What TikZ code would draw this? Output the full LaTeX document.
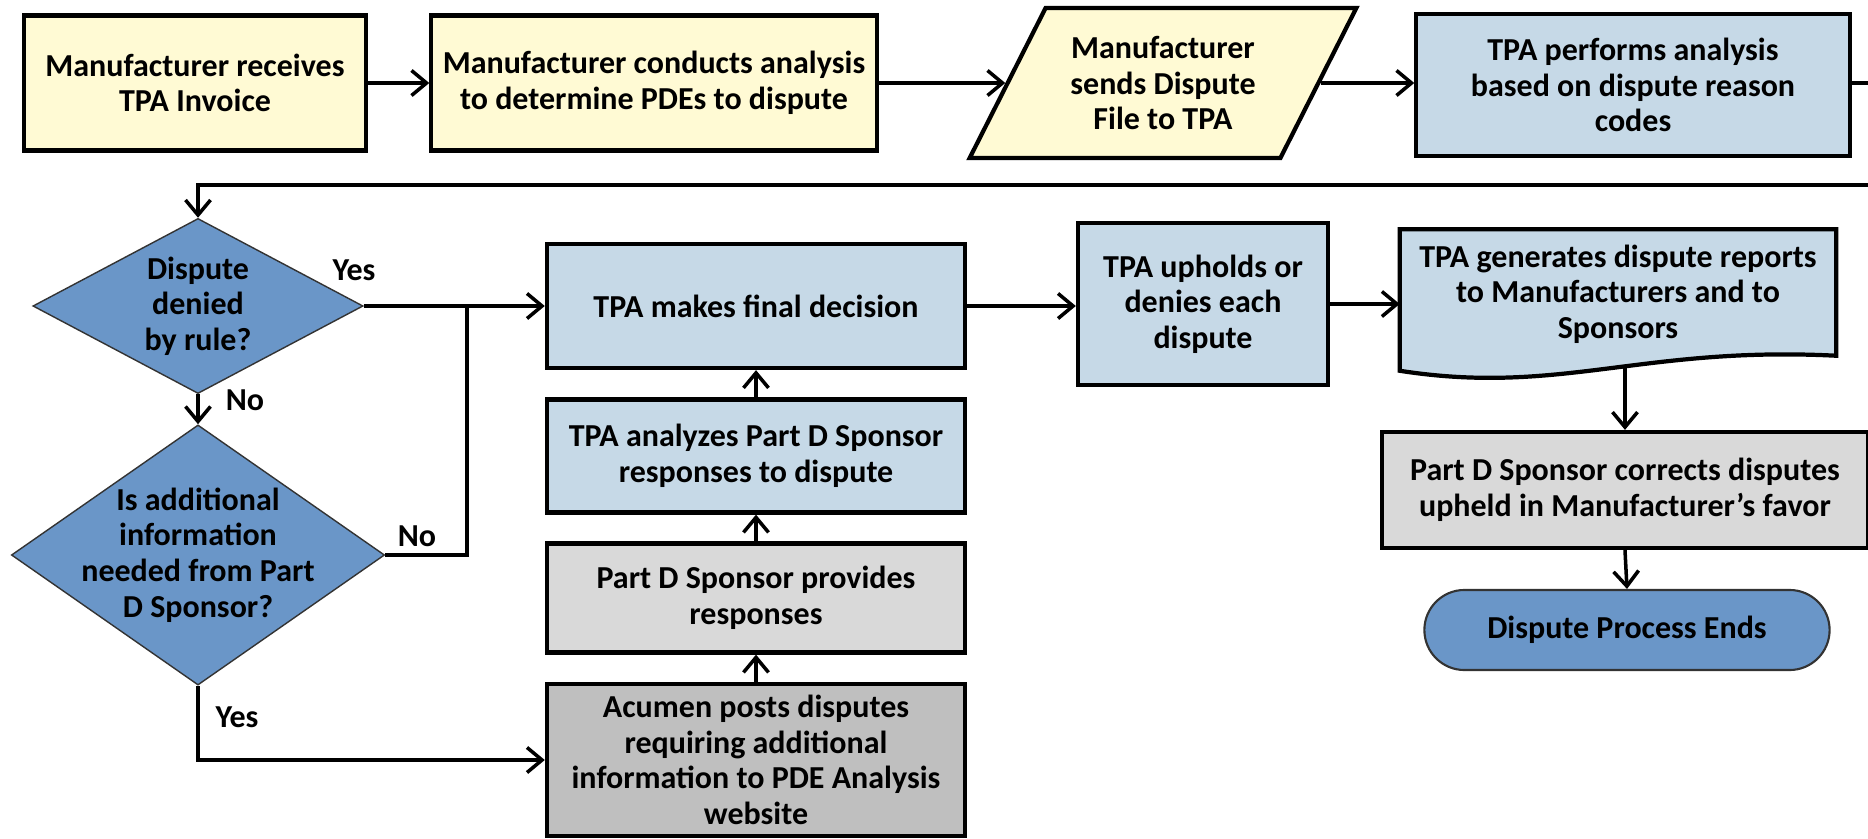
\documentclass[tikz,border=0pt]{standalone}
\usepackage{fontspec}
\setmainfont{Carlito}
\usepackage{tikz}
\usetikzlibrary{arrows.meta, positioning, shapes.geometric, backgrounds}

\definecolor{procyellow}{RGB}{255,250,212}
\definecolor{procblue}{RGB}{198,217,231}
\definecolor{decisionblue}{RGB}{106,150,200}
\definecolor{lightgrey}{RGB}{217,217,217}
\definecolor{midgrey}{RGB}{191,191,191}

\begin{document}
\begin{tikzpicture}[
    x=0.01cm, y=-0.01cm,
    % Styles
    every node/.style={font=\fontsize{9.1}{10.1}\selectfont\bfseries, align=center},
    procbox/.style={draw, line width=1.2pt, inner sep=2pt},
    mfrbox/.style={procbox, fill=procyellow},
    tpabox/.style={procbox, fill=procblue},
    sponsorbox/.style={procbox, fill=lightgrey},
    acumenbox/.style={procbox, fill=midgrey},
    decision/.style={diamond, draw=black!80, fill=decisionblue, line width=0.4pt, inner sep=0pt},
    decisiontext/.style={align=center},
    terminator/.style={draw=black!80, fill=decisionblue, line width=0.6pt, rounded corners=0.4cm},
    branchlabel/.style={inner sep=1pt},
    flowarrow/.style={-{Straight Barb[length=1.5mm, width=2.5mm]}, line width=1pt},
    flowline/.style={line width=1pt},
]
    \useasboundingbox (0,0) rectangle (1868,839);

    % Top row: manufacturer steps
    \node[mfrbox, minimum width=3.42cm, minimum height=1.35cm] (recv) at (195,83) {Manufacturer receives\\TPA Invoice};
    \node[mfrbox, minimum width=4.45cm, minimum height=1.35cm] (analysis) at (654,83) {Manufacturer conducts analysis\\to determine PDEs to dispute};
    \node[trapezium, trapezium left angle=60, trapezium right angle=120, trapezium stretches=true,
          draw, line width=1.2pt, fill=procyellow, minimum width=3.88cm, minimum height=1.5cm] (sendfile) at (1163,83) {Manufacturer\\sends Dispute\\File to TPA};
    \node[tpabox, minimum width=4.33cm, minimum height=1.42cm] (perform) at (1633,85) {TPA performs analysis\\based on dispute reason\\codes};

    \draw[flowarrow] (recv.east) -- (analysis.west);
    \draw[flowarrow] (analysis.east) -- (sendfile.west);
    \draw[flowarrow] (sendfile.east) -- (sendfile.east -| perform.west);

    % Wrap-around to second row
    \coordinate (exitA) at (1868,83);
    \coordinate (exitB) at (1868,185);
    \draw[flowline] (perform.east |- exitA) -- (exitA);

    % Decisions
    \node[decision, minimum width=3.3cm, minimum height=1.75cm,
          label={[decisiontext]center:Dispute\\denied\\by rule?}] (rule) at (198,306) {};
    \node[decision, minimum width=3.73cm, minimum height=2.6cm,
          label={[decisiontext]center:Is additional\\information\\needed from Part\\D Sponsor?}] (info) at (198,555) {};

    \draw[flowarrow] (exitB) -| (rule.north);
    \draw[flowarrow] (rule.south) -- (info.north);

    % Middle column
    \node[tpabox, minimum width=4.18cm, minimum height=1.24cm] (final) at (756,306) {TPA makes final decision};
    \node[tpabox, minimum width=4.18cm, minimum height=1.13cm] (analyzes) at (756,456) {TPA analyzes Part D Sponsor\\responses to dispute};
    \node[sponsorbox, minimum width=4.18cm, minimum height=1.09cm] (provides) at (756,598) {Part D Sponsor provides\\responses};
    \node[acumenbox, minimum width=4.18cm, minimum height=1.52cm] (acumen) at (756,760) {Acumen posts disputes\\requiring additional\\information to PDE Analysis\\website};

    \coordinate (join) at (467,306);
    \draw[flowarrow] (rule.east) -- (final.west);
    \draw[flowline] (info.east) -| (join);
    \draw[flowarrow] (info.south) |- (acumen.west);
    \draw[flowarrow] (acumen.north) -- (provides.south);
    \draw[flowarrow] (provides.north) -- (analyzes.south);
    \draw[flowarrow] (analyzes.north) -- (final.south);

    % Branch labels
    \node[branchlabel] (yesrule) at (354,270) {Yes};
    \node[branchlabel] (norule) at (245,400) {No};
    \node[branchlabel] (noinfo) at (417,536) {No};
    \node[branchlabel] (yesinfo) at (237,717) {Yes};

    % Right side
    \node[tpabox, minimum width=2.5cm, minimum height=1.62cm] (upholds) at (1203,304) {TPA upholds or\\denies each\\dispute};
    \node[minimum width=4.35cm, minimum height=1.28cm] (reports) at (1618,294) {TPA generates dispute reports\\to Manufacturers and to\\Sponsors};
    \begin{scope}[on background layer]
        \draw[line width=1.2pt, fill=procblue] (reports.north west) -- (reports.north east)
            -- ([yshift=0.03cm]reports.south east)
            .. controls ([xshift=-1.95cm, yshift=0.13cm]reports.south east) and ([xshift=1.6cm, yshift=-0.37cm]reports.south west)
            .. ([yshift=-0.12cm]reports.south west) -- cycle;
    \end{scope}

    \node[sponsorbox, minimum width=4.86cm, minimum height=1.16cm] (corrects) at (1625,490) {Part D Sponsor corrects disputes\\upheld in Manufacturer’s favor};
    \node[terminator, minimum width=4.05cm, minimum height=0.8cm] (ends) at (1627,630) {Dispute Process Ends};

    \draw[flowarrow] (final.east) -- (final.east -| upholds.west);
    \draw[flowarrow] (upholds.east) -- (upholds.east -| reports.west);
    \draw[flowarrow] ([yshift=-0.09cm]corrects.north |- reports.south) -- (corrects.north);
    \draw[flowarrow] (corrects.south) -- (ends.north);

\end{tikzpicture}
\end{document}
